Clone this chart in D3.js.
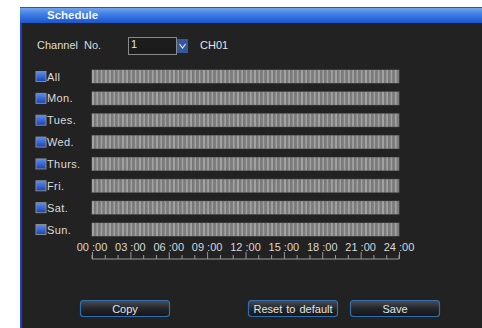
<!DOCTYPE html>
<html>
<head>
<meta charset="utf-8">
<script src="https://cdn.jsdelivr.net/npm/d3@7"></script>
<style>
  body { margin: 0; background: #fff; }
  text { font-family: "Liberation Sans", Arial, sans-serif; }
</style>
</head>
<body>
<div id="chart"></div>
<script>
const days = ["All", "Mon.", "Tues.", "Wed.", "Thurs.", "Fri.", "Sat.", "Sun."];
const hourTicks = [0, 3, 6, 9, 12, 15, 18, 21, 24];
const hourLabels = ["00:00", "03:00", "06:00", "09:00", "12:00", "15:00", "18:00", "21:00", "24:00"];
// every day is fully scheduled: 144 ten-minute slots, all on
const slotsOn = [1,1,1,1,1,1,1,1];
const buttons = ["Copy", "Reset to default", "Save"];
const buttonX = [80, 248, 350];

const W = 482, H = 328;
const svg = d3.select("#chart").append("svg").attr("width", W).attr("height", H);

const defs = svg.append("defs");
const tg = defs.append("linearGradient").attr("id", "title").attr("x1", 0).attr("x2", 0).attr("y1", 0).attr("y2", 1);
tg.append("stop").attr("offset", "0%").attr("stop-color", "#7aa8ee");
tg.append("stop").attr("offset", "45%").attr("stop-color", "#3f7fe6");
tg.append("stop").attr("offset", "100%").attr("stop-color", "#1c55cc");
const cg = defs.append("linearGradient").attr("id", "chk").attr("x1", 0).attr("x2", 0).attr("y1", 0).attr("y2", 1);
cg.append("stop").attr("offset", "0%").attr("stop-color", "#5d8ff0");
cg.append("stop").attr("offset", "100%").attr("stop-color", "#1740b8");
const bg = defs.append("linearGradient").attr("id", "btn").attr("x1", 0).attr("x2", 0).attr("y1", 0).attr("y2", 1);
bg.append("stop").attr("offset", "0%").attr("stop-color", "#4a4f55");
bg.append("stop").attr("offset", "50%").attr("stop-color", "#23262a");
bg.append("stop").attr("offset", "100%").attr("stop-color", "#15171a");

// panel
svg.append("rect").attr("x", 20).attr("y", 7).attr("width", W - 20).attr("height", H - 7).attr("fill", "#222222");
svg.append("rect").attr("x", 20).attr("y", 7).attr("width", 2).attr("height", H - 7).attr("fill", "#1b3fd6");
svg.append("rect").attr("x", 20).attr("y", 7).attr("width", W - 20).attr("height", 16).attr("fill", "url(#title)");
svg.append("rect").attr("x", 20).attr("y", 7).attr("width", W - 20).attr("height", 1).attr("fill", "#2a52c8");
svg.append("text").attr("x", 47).attr("y", 19).attr("fill", "#f4f6ff")
  .attr("font-size", 11.5).attr("font-weight", "bold").text("Schedule");

// channel selector
svg.append("text").attr("x", 37).attr("y", 49).attr("fill", "#dcdcdc").attr("font-size", 11)
  .attr("word-spacing", 3).text("Channel No.");
svg.append("rect").attr("x", 128.5).attr("y", 37.5).attr("width", 48).attr("height", 17)
  .attr("fill", "#1c1c1c").attr("stroke", "#8a8a8a");
svg.append("text").attr("x", 131).attr("y", 48).attr("fill", "#e6e6e6").attr("font-size", 11).text("1");
svg.append("rect").attr("x", 177).attr("y", 39).attr("width", 11).attr("height", 14).attr("fill", "#34589e");
svg.append("path").attr("d", "M179.5,44 L182.5,48 L185.5,44").attr("fill", "none").attr("stroke", "#e8e8e8").attr("stroke-width", 1.2);
svg.append("text").attr("x", 200).attr("y", 49).attr("fill", "#e6e6e6").attr("font-size", 11).text("CH01");

// scales
const x = d3.scaleLinear().domain([0, 24]).range([92, 399]);
const y = d3.scaleBand().domain(days).range([70, 236]).paddingInner(0.406).paddingOuter(0);

const slots = d3.range(144);
const rows = svg.selectAll("g.row").data(days).enter().append("g").attr("class", "row");

rows.append("rect").attr("x", 36).attr("y", d => y(d) + 1.5).attr("width", 10).attr("height", 10)
  .attr("fill", "url(#chk)").attr("stroke", "#8b8b8b").attr("stroke-width", 1);
rows.append("text").attr("x", 47).attr("y", d => y(d) + 10.5).attr("fill", "#dcdcdc")
  .attr("font-size", 11).attr("letter-spacing", 0.4).text(d => d);

rows.append("rect").attr("x", x(0) - 0.5).attr("y", d => y(d) - 0.5)
  .attr("width", x(24) - x(0) + 1).attr("height", y.bandwidth() + 1).attr("fill", "#555");
rows.each(function(d, i) {
  d3.select(this).selectAll("rect.slot").data(slots.filter(() => slotsOn[i])).enter().append("rect")
    .attr("class", "slot")
    .attr("x", s => x(s / 6))
    .attr("y", y(d))
    .attr("width", (x(24) - x(0)) / 144)
    .attr("height", y.bandwidth())
    .attr("fill", s => s % 2 ? "#7c7c7c" : "#a2a2a2");
});

// time axis
const axis = svg.append("g").attr("transform", "translate(0,259)")
  .call(d3.axisTop(x).ticks(24).tickSize(4).tickFormat(""));
axis.select(".domain").attr("stroke", "#9a9a9a").attr("d", `M${x(0)},-4V0H${x(24)}V-4`);
axis.selectAll(".tick line").attr("stroke", "#9a9a9a")
  .attr("y2", d => hourTicks.includes(d) ? -7 : -4);
svg.selectAll("text.hour").data(hourTicks).enter().append("text").attr("class", "hour")
  .attr("x", d => x(d)).attr("y", 251).attr("text-anchor", "middle")
  .attr("fill", "#d8d8d8").attr("font-size", 11)
  .text((d, i) => hourLabels[i].replace(":", " :"));

// buttons
const btn = svg.selectAll("g.btn").data(buttons).enter().append("g").attr("class", "btn");
btn.append("rect").attr("x", (d, i) => buttonX[i] + 0.5).attr("y", 300.5).attr("width", 89).attr("height", 16)
  .attr("rx", 3).attr("fill", "url(#btn)").attr("stroke", "#2f6fae").attr("stroke-width", 1.2);
btn.append("text").attr("x", (d, i) => buttonX[i] + 45).attr("y", 312.5).attr("text-anchor", "middle")
  .attr("fill", "#e4e4e4").attr("font-size", 11).attr("word-spacing", 1).text(d => d);
</script>
</body>
</html>
